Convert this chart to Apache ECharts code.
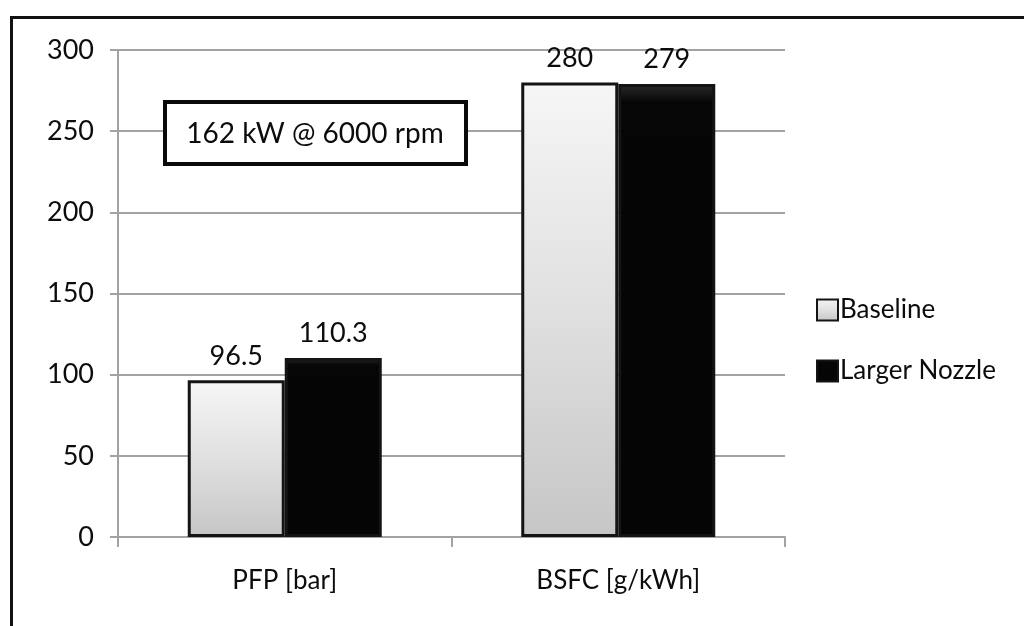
<!DOCTYPE html>
<html>
<head>
<meta charset="utf-8">
<script src="https://cdn.jsdelivr.net/npm/echarts@6/dist/echarts.min.js"></script>
<style>
  html, body { margin: 0; padding: 0; background: #ffffff; }
  #chart { width: 1024px; height: 626px; }
</style>
</head>
<body>
<div id="chart"></div>
<script>
// Categories along the x axis
const categories = ['PFP [bar]', 'BSFC [g/kWh]'];
// Series values
const baseline = [96.5, 280];
const largerNozzle = [110.3, 279];
// Value axis ticks
const yTicks = [0, 50, 100, 150, 200, 250, 300];
// Operating point note
const noteText = '162 kW @ 6000 rpm';

const FONT = 'Lato, "Open Sans", sans-serif';
const TEXT = '#0c0c0c';
const GRID = '#a2a2a2';

const chart = echarts.init(document.getElementById('chart'), null, { renderer: 'canvas' });

const baselineFill = new echarts.graphic.LinearGradient(0, 0, 0, 1, [
  { offset: 0, color: '#f6f6f6' },
  { offset: 0.5, color: '#e0e0e0' },
  { offset: 1, color: '#c6c6c6' }
]);
const nozzleFill = new echarts.graphic.LinearGradient(0, 0, 0, 1, [
  { offset: 0, color: '#2a2a2a' },
  { offset: 0.04, color: '#060606' },
  { offset: 1, color: '#050505' }
]);

const valueLabel = {
  show: true,
  position: 'top',
  distance: 11,
  color: TEXT,
  fontFamily: FONT,
  fontSize: 27
};

chart.setOption({
  animation: false,
  backgroundColor: '#ffffff',
  grid: { left: 118, right: 239, top: 50, bottom: 89, containLabel: false },
  legend: {
    orient: 'vertical',
    left: 811,
    top: 292,
    itemWidth: 21,
    itemHeight: 21,
    itemGap: 35,
    icon: 'rect',
    textStyle: { color: TEXT, fontFamily: FONT, fontSize: 26, padding: [0, 0, 0, -3] },
    data: ['Baseline', 'Larger Nozzle']
  },
  xAxis: {
    type: 'category',
    data: categories,
    axisLine: { lineStyle: { color: GRID, width: 2 } },
    axisTick: { show: true, length: 10, lineStyle: { color: GRID, width: 2 } },
    axisLabel: { color: TEXT, fontFamily: FONT, fontSize: 26, margin: 31 }
  },
  yAxis: {
    type: 'value',
    min: yTicks[0],
    max: yTicks[yTicks.length - 1],
    interval: yTicks[1] - yTicks[0],
    axisLine: { show: true, lineStyle: { color: GRID, width: 2 } },
    axisTick: { show: true, length: 8, lineStyle: { color: GRID, width: 2 } },
    axisLabel: { color: TEXT, fontFamily: FONT, fontSize: 27, margin: 24 },
    splitLine: { lineStyle: { color: GRID, width: 2 } }
  },
  series: [
    {
      name: 'Baseline',
      type: 'bar',
      data: baseline,
      barWidth: 97,
      barGap: '0%',
      itemStyle: { color: baselineFill, borderColor: '#141414', borderWidth: 3 },
      label: valueLabel
    },
    {
      name: 'Larger Nozzle',
      type: 'bar',
      data: largerNozzle,
      barWidth: 97,
      barGap: '0%',
      itemStyle: { color: nozzleFill, borderColor: '#141414', borderWidth: 3 },
      label: valueLabel
    }
  ],
  graphic: [
    {
      type: 'rect',
      left: 9,
      top: 15,
      z: 100,
      shape: { width: 1100, height: 700 },
      style: { fill: 'none', stroke: '#111111', lineWidth: 3 },
      silent: true
    },
    {
      type: 'group',
      left: 163,
      top: 100,
      z: 100,
      children: [
        {
          type: 'rect',
          z: 100,
          shape: { x: 0, y: 0, width: 301, height: 62 },
          style: { fill: '#ffffff', stroke: '#0a0a0a', lineWidth: 4 }
        },
        {
          type: 'text',
          z: 101,
          x: 150,
          y: 32,
          style: {
            text: noteText,
            fill: TEXT,
            font: '28px ' + FONT,
            align: 'center',
            verticalAlign: 'middle'
          }
        }
      ]
    }
  ]
});
</script>
</body>
</html>
